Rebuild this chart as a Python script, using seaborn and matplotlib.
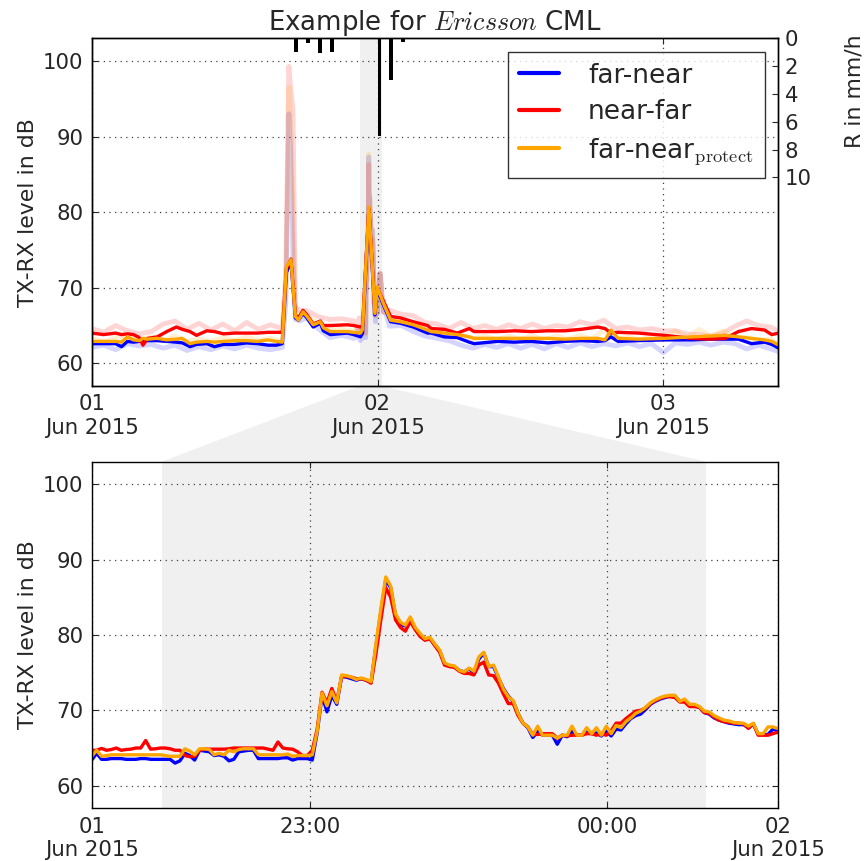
import numpy as np
import matplotlib
matplotlib.use("Agg")
import matplotlib.pyplot as plt
import seaborn as sns
from matplotlib.patches import Polygon

# ---------------- data ----------------
# Top panel: smoothed TX-RX level (hours since 01 Jun 2015 00:00)
smooth_hours = [0, 1, 2, 2.5, 3, 3.5, 4, 4.3, 4.7, 5.5,
                6.3, 7.1, 7.6, 8.25, 8.8, 9.66, 10.3, 11.06, 12, 13,
                13.9, 14.8, 15.5, 16.0, 16.34, 16.73, 17.1, 17.35, 17.74, 18.08,
                18.6, 19.2, 19.45, 20.04, 21.45, 22.0, 22.57, 22.74, 23.27, 23.78,
                23.98, 24.5, 25.1, 25.94, 27.0, 28.2, 28.5, 29.6, 30.7, 31.7,
                32.1, 34.1, 35.5, 36.9, 38.3, 39.7, 41.1, 42.5, 43.1, 43.6,
                44.2, 45.9, 48.1, 50.4, 51.8, 53.2, 54.3, 55.4, 56.5, 57.1,
                57.7]
smooth_far_near = [62.6, 62.6, 62.6, 62.2, 62.9, 62.8, 62.9, 62.9, 63.0, 63.0,
                   62.9, 62.8, 62.7, 62.2, 62.5, 62.6, 62.2, 62.5, 62.5, 62.7,
                   62.6, 62.4, 62.4, 62.6, 72.0, 73.5, 66.0, 65.7, 66.6, 66.0,
                   64.8, 65.3, 64.3, 63.8, 64.0, 63.8, 63.5, 64.0, 80.5, 66.4,
                   69.8, 67.7, 65.5, 65.3, 64.8, 64.0, 64.0, 63.5, 63.4, 62.8,
                   62.6, 62.9, 62.8, 62.9, 62.7, 62.9, 63.0, 62.9, 63.0, 63.5,
                   62.9, 63.0, 63.1, 63.1, 63.2, 63.2, 63.2, 62.6, 62.8, 62.5,
                   62.0]
smooth_near_far = [64.0, 63.8, 64.0, 63.8, 63.9, 63.8, 63.4, 62.4, 63.3, 63.5,
                   64.2, 64.8, 64.5, 64.2, 63.7, 64.3, 64.2, 63.9, 64.0, 64.0,
                   64.0, 64.1, 64.1, 64.1, 72.5, 73.8, 66.4, 66.0, 67.0, 66.4,
                   65.2, 65.6, 65.0, 65.0, 65.1, 65.0, 64.8, 65.0, 80.5, 67.0,
                   70.0, 68.2, 66.2, 66.0, 65.5, 65.0, 64.6, 64.5, 64.0, 64.6,
                   64.2, 64.2, 64.3, 64.2, 64.3, 64.3, 64.5, 64.8, 64.6, 64.0,
                   64.1, 64.0, 63.7, 63.3, 63.2, 63.3, 64.2, 64.6, 64.4, 63.8,
                   64.0]
smooth_far_near_protect = [62.9, 62.9, 62.9, 62.8, 63.5, 63.1, 63.0, 63.3, 63.2, 63.3,
                           63.1, 63.2, 63.3, 62.6, 62.8, 62.9, 62.8, 62.9, 63.0, 63.0,
                           62.9, 63.1, 62.9, 62.8, 72.8, 73.7, 66.2, 65.7, 66.8, 66.2,
                           65.1, 65.5, 64.7, 64.2, 64.2, 64.1, 64.0, 64.5, 80.7, 66.6,
                           70.1, 67.9, 65.7, 65.5, 65.1, 64.4, 64.2, 64.0, 63.8, 63.5,
                           63.3, 63.3, 63.3, 63.3, 63.3, 63.2, 63.3, 63.3, 63.1, 64.4,
                           63.3, 63.2, 63.3, 63.5, 63.6, 63.7, 63.5, 63.3, 63.1, 62.9,
                           62.4]

# Top panel: raw (faint) levels outside the zoom window
raw_hours_before = [0, 1, 2, 3, 4, 5, 6, 7, 8, 9, 10, 11, 12, 13, 14, 15, 16,
                    16.3, 16.55, 16.7, 16.9, 17.1, 17.5, 18, 19, 20, 21, 22]
raw_far_near_before = [62.1, 62.4, 61.8, 62.6, 62.3, 62.5, 62.0, 62.4, 61.7, 62.2,
                       61.8, 62.3, 61.9, 62.4, 62.0, 61.8, 62.1,
                       68.0, 93.0, 88.0, 74.0, 65.8, 65.6, 66.0, 64.6, 63.4, 63.7, 63.3]
raw_near_far_before = [64.6, 64.1, 65.0, 64.3, 63.9, 64.2, 65.2, 65.6, 64.5, 65.3,
                       64.4, 65.2, 64.3, 65.4, 64.5, 65.1, 64.6,
                       72.0, 99.3, 96.5, 93.5, 67.5, 67.0, 67.0, 66.2, 65.8, 65.9, 65.6]
raw_far_near_protect_before = [63.3, 62.8, 63.4, 63.6, 63.1, 63.5, 63.0, 63.6, 62.9, 63.2,
                               62.9, 63.4, 63.0, 63.5, 63.0, 63.3, 62.9,
                               70.0, 96.5, 92.0, 80.0, 66.8, 66.2, 66.4, 65.3, 64.5, 64.5, 64.3]
raw_hours_after = [25, 26, 27, 28, 29, 30, 31, 32, 33, 34, 35, 36, 37, 38, 39, 40, 41,
                   42, 43, 44, 45, 46, 47, 48, 49, 50, 51, 52, 53, 54, 55, 56, 57, 57.6]
raw_far_near_after = [64.9, 65.0, 64.2, 63.6, 63.3, 63.0, 62.4, 62.0, 62.5, 62.1,
                      62.6, 62.0, 62.5, 61.9, 62.6, 62.1, 62.7, 62.2, 62.6, 62.3,
                      62.7, 62.2, 62.6, 61.4, 62.7, 62.5, 62.8, 62.4, 62.8, 62.6,
                      61.9, 62.4, 61.9, 61.6]
raw_near_far_after = [67.0, 66.5, 66.3, 65.4, 65.2, 64.6, 65.4, 64.6, 65.0, 64.5,
                      65.1, 64.6, 65.2, 64.6, 65.0, 64.8, 65.5, 65.1, 65.7, 64.6,
                      64.8, 64.4, 64.6, 64.3, 64.3, 63.9, 63.8, 63.6, 64.0, 64.9,
                      65.6, 65.0, 64.8, 64.3]
raw_far_near_protect_after = [65.9, 65.4, 65.4, 64.6, 64.3, 63.7, 63.8, 63.2, 63.6, 63.1,
                              63.6, 63.2, 63.6, 63.1, 63.6, 63.2, 63.7, 63.2, 64.4, 63.1,
                              63.5, 63.1, 63.5, 63.2, 64.3, 63.4, 64.5, 63.6, 64.3, 63.4,
                              63.4, 63.0, 63.2, 62.6]

# Zoom window: ~1-minute samples starting 22:15:47
zoom_start_hour = 22.263
zoom_step_min = 0.991
zoom_far_near = [
    63.4, 64.3, 63.5, 63.5, 63.6, 63.6, 63.6, 63.5, 63.5, 63.5,
    63.6, 63.6, 63.5, 63.5, 63.5, 63.5, 63.5, 63.0, 63.3, 64.3,
    64.0, 63.4, 64.7, 64.6, 64.5, 64.0, 64.1, 63.9, 63.3, 63.5,
    64.5, 64.6, 64.7, 64.7, 63.6, 63.6, 63.6, 63.6, 63.6, 63.7,
    63.7, 63.4, 63.6, 63.6, 63.6, 63.4, 67.0, 72.0, 69.8, 72.0,
    70.8, 74.5, 74.4, 74.2, 74.0, 74.2, 74.0, 73.7, 78.5, 83.0,
    87.3, 86.3, 82.5, 81.4, 81.2, 82.0, 80.9, 80.0, 79.4, 79.6,
    78.7, 77.9, 76.2, 75.9, 75.8, 75.3, 75.1, 75.5, 75.0, 76.8,
    77.6, 75.8, 75.8, 74.3, 72.9, 71.9, 71.2, 69.6, 68.3, 67.7,
    66.4, 67.2, 66.7, 66.7, 66.7, 65.5, 66.7, 66.5, 67.2, 66.7,
    66.7, 67.2, 66.9, 67.0, 66.6, 67.2, 66.6, 67.5, 67.4, 68.2,
    68.9, 69.3, 69.5, 70.1, 70.8, 71.2, 71.5, 71.7, 71.9, 71.9,
    71.2, 71.3, 70.7, 70.6, 70.4, 69.7, 69.5, 69.0, 68.7, 68.5,
    68.3, 68.2, 68.1, 68.1, 67.7, 68.2, 66.8, 66.8, 66.8, 67.5, 67.3]
zoom_near_far = [
    64.7, 64.7, 64.95, 64.7, 64.8, 65.0, 64.7, 64.8, 64.85, 65.0,
    65.0, 66.0, 64.85, 64.9, 65.0, 65.0, 64.9, 64.7, 64.7, 64.0,
    63.85, 63.9, 64.7, 64.85, 64.85, 64.85, 64.85, 64.85, 64.9, 65.0,
    65.0, 65.0, 65.0, 65.0, 65.0, 65.0, 64.85, 64.7, 65.8, 65.0,
    64.9, 64.85, 64.5, 64.0, 64.0, 64.7, 67.5, 72.4, 71.0, 72.9,
    71.2, 74.5, 74.5, 74.4, 74.2, 74.2, 74.0, 73.6, 77.5, 82.0,
    86.3, 85.0, 82.0, 81.0, 80.5, 81.8, 80.7, 79.8, 79.3, 79.5,
    78.6, 77.7, 76.0, 75.8, 75.7, 75.2, 74.9, 74.9, 74.7, 76.0,
    76.4, 74.7, 74.6, 73.6, 72.2, 70.9, 70.9, 69.3, 68.3, 67.8,
    66.8, 66.8, 66.9, 66.9, 66.9, 66.3, 66.7, 66.6, 66.7, 66.7,
    66.7, 66.9, 66.9, 66.7, 66.9, 66.7, 67.3, 68.3, 68.3, 68.9,
    69.4, 69.9, 70.0, 70.3, 70.9, 71.3, 71.6, 71.8, 71.8, 71.7,
    71.1, 71.1, 70.5, 70.5, 70.4, 69.7, 69.6, 69.1, 68.7, 68.5,
    68.4, 68.3, 68.3, 68.2, 67.6, 68.2, 66.7, 66.7, 66.7, 66.9, 67.1]
zoom_far_near_protect = [
    63.9, 64.7, 63.9, 64.0, 64.1, 64.1, 64.1, 64.1, 64.1, 64.1,
    64.1, 64.1, 64.1, 64.1, 64.1, 64.0, 63.9, 63.9, 63.9, 64.9,
    64.6, 64.1, 64.9, 64.9, 64.8, 64.1, 64.3, 64.1, 64.7, 64.5,
    64.8, 64.9, 64.9, 64.9, 64.1, 64.1, 64.1, 64.1, 64.1, 64.1,
    64.2, 63.9, 64.0, 64.0, 64.0, 64.1, 67.2, 72.3, 70.6, 72.5,
    71.0, 74.7, 74.6, 74.4, 74.1, 74.3, 74.1, 73.8, 78.9, 83.5,
    87.7, 86.5, 82.8, 81.7, 81.3, 82.4, 81.0, 80.2, 79.5, 79.7,
    78.8, 78.0, 76.3, 76.0, 75.9, 75.3, 75.1, 75.6, 75.2, 77.1,
    77.7, 75.8, 76.0, 74.4, 72.8, 71.8, 71.3, 69.6, 68.3, 67.8,
    66.7, 67.9, 66.7, 66.7, 66.7, 66.3, 66.7, 66.7, 67.9, 66.7,
    66.7, 67.7, 66.9, 67.7, 66.7, 67.9, 66.9, 68.0, 67.7, 68.5,
    69.0, 69.6, 69.9, 70.4, 71.0, 71.4, 71.7, 71.9, 72.0, 72.0,
    71.2, 71.5, 70.8, 70.8, 70.5, 69.9, 69.8, 69.3, 69.0, 68.7,
    68.6, 68.4, 68.3, 68.3, 67.9, 68.3, 66.9, 66.9, 67.8, 67.8, 67.6]

# Rain rate (hourly bars)
rain_hours = [17, 18, 19, 20, 24, 25, 26]
rain_rate = [1.0, 0.35, 1.05, 0.95, 7.0, 3.0, 0.25]

series_labels = ["far-near", "near-far", r"far-near$_\mathrm{protect}$"]
series_colors = ["blue", "red", "orange"]

top_xticks = [0, 24, 48]
top_xticklabels = ["01\nJun 2015", "02\nJun 2015", "03\nJun 2015"]
top_xlim = (0, 57.6)
zoom_band = (22.5, 24.333)
bottom_xlim = (22.263, 24.575)
bottom_mid_ticks = [23, 24]
bottom_mid_labels = ["23:00", "00:00"]
bottom_edge_labels = ["01\nJun 2015", "02\nJun 2015"]
y_ticks = [60, 70, 80, 90, 100]
y_lim = (57, 103)
rain_ticks = [0, 2, 4, 6, 8, 10]
rain_lim = (25, 0)

# ---------------- style ----------------
sns.set_style("white")
plt.rcParams["font.family"] = ["DejaVu Sans"]
plt.rcParams["mathtext.fontset"] = "cm"
plt.rcParams["axes.edgecolor"] = "black"
plt.rcParams["axes.linewidth"] = 1.0

TICK_FS = 15.3
LABEL_FS = 15.8
BAND = "#f0f0f0"

fig = plt.figure(figsize=(8.67, 8.61), dpi=100)
ax_top = fig.add_axes([0.1058, 0.5517, 0.7912, 0.4038])
ax_bot = fig.add_axes([0.1058, 0.0612, 0.7912, 0.4026])

zoom_hours = zoom_start_hour + np.arange(len(zoom_far_near)) * zoom_step_min / 60.0

smooth = [smooth_far_near, smooth_near_far, smooth_far_near_protect]
raw_before = [raw_far_near_before, raw_near_far_before, raw_far_near_protect_before]
raw_after = [raw_far_near_after, raw_near_far_after, raw_far_near_protect_after]
zoom = [zoom_far_near, zoom_near_far, zoom_far_near_protect]

# ---- top panel ----
ax_top.axvspan(*zoom_band, color=BAND, lw=0, zorder=0)
for i in range(3):
    rx = np.concatenate([raw_hours_before, zoom_hours, raw_hours_after])
    ry = np.concatenate([raw_before[i], zoom[i], raw_after[i]])
    sns.lineplot(x=rx, y=ry, ax=ax_top, color=series_colors[i], lw=3.5,
                 alpha=0.17, legend=False, estimator=None)
for i in range(3):
    sns.lineplot(x=smooth_hours, y=smooth[i], ax=ax_top, color=series_colors[i],
                 lw=2.4, label=series_labels[i], estimator=None)

ax_top.set_xlim(*top_xlim)
ax_top.set_ylim(*y_lim)
ax_top.set_xticks(top_xticks)
ax_top.set_xticklabels(top_xticklabels)
ax_top.set_yticks(y_ticks)
ax_top.grid(True, color="0.25", linestyle=(0, (1, 3.5)), linewidth=0.9)
ax_top.tick_params(axis="both", direction="in", length=4, labelsize=TICK_FS,
                   top=True, bottom=True, left=True, right=False, pad=6)
ax_top.set_ylabel("TX-RX level in dB", fontsize=LABEL_FS)
ax_top.yaxis.set_label_coords(-0.079, 0.5)
ax_top.set_xlabel("")
ax_top.set_title(r"Example for $Ericsson$ CML", fontsize=18.7, pad=6)

handles, labels = ax_top.get_legend_handles_labels()
leg = ax_top.legend(handles, labels, loc="upper right", fontsize=19,
                    frameon=True, fancybox=False, edgecolor="black",
                    handlelength=1.5, handletextpad=1.1, borderaxespad=0.5,
                    labelspacing=0.4, borderpad=0.42)
leg.get_frame().set_linewidth(1.0)
for lh in leg.get_lines():
    lh.set_linewidth(3)

# rain on twin axis
ax_rain = ax_top.twinx()
ax_rain.bar(rain_hours, rain_rate, width=0.33, align="edge", color="black", lw=0)
ax_rain.set_ylim(*rain_lim)
ax_rain.set_yticks(rain_ticks)
ax_rain.tick_params(axis="y", direction="in", length=4, labelsize=TICK_FS, pad=5,
                    right=True, left=False)
ax_rain.set_ylabel("R in mm/h", fontsize=LABEL_FS)
ax_rain.yaxis.set_label_coords(1.097, 0.849)
ax_rain.grid(False)
ax_rain.set_xlim(*top_xlim)

# ---- bottom panel ----
ax_bot.axvspan(*zoom_band, color=BAND, lw=0, zorder=0)
for i in range(3):
    sns.lineplot(x=zoom_hours, y=zoom[i], ax=ax_bot, color=series_colors[i],
                 lw=2.4, legend=False, estimator=None)
ax_bot.set_xlim(*bottom_xlim)
ax_bot.set_ylim(*y_lim)
bx = [bottom_xlim[0]] + bottom_mid_ticks + [bottom_xlim[1]]
ax_bot.set_xticks(bx)
ax_bot.set_xticklabels([bottom_edge_labels[0]] + bottom_mid_labels + [bottom_edge_labels[1]])
ax_bot.set_yticks(y_ticks)
ax_bot.grid(True, color="0.25", linestyle=(0, (1, 3.5)), linewidth=0.9)
ax_bot.tick_params(axis="both", direction="in", length=4, labelsize=TICK_FS,
                   top=True, bottom=True, left=True, right=True, pad=6)
ax_bot.set_ylabel("TX-RX level in dB", fontsize=LABEL_FS)
ax_bot.yaxis.set_label_coords(-0.079, 0.5)
ax_bot.set_xlabel("")

# ---- connecting zoom polygon ----
inv = fig.transFigure.inverted()
p1 = inv.transform(ax_top.transData.transform((zoom_band[0], y_lim[0])))
p2 = inv.transform(ax_top.transData.transform((zoom_band[1], y_lim[0])))
p3 = inv.transform(ax_bot.transData.transform((zoom_band[1], y_lim[1])))
p4 = inv.transform(ax_bot.transData.transform((zoom_band[0], y_lim[1])))
poly = Polygon([p1, p2, p3, p4], closed=True, transform=fig.transFigure,
               facecolor=BAND, edgecolor="none", zorder=-1)
fig.add_artist(poly)

fig.savefig("out.png", dpi=100)
